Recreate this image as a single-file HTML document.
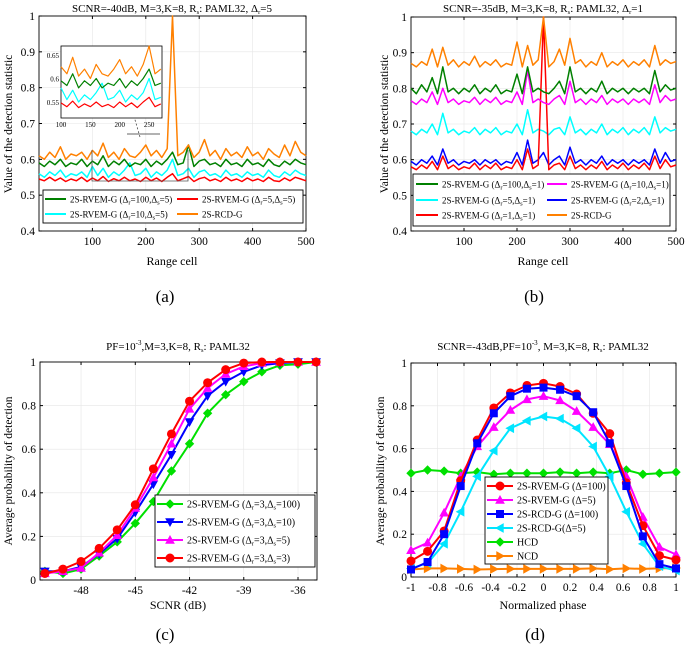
<!DOCTYPE html>
<html><head><meta charset="utf-8"><style>
html,body{margin:0;padding:0;background:#fff}
svg{display:block;font-family:"Liberation Serif",serif}
</style></head><body>
<svg id="fig" width="685" height="653" viewBox="0 0 685 653" xmlns="http://www.w3.org/2000/svg"></svg>
<script>
// ---------- data: panel (a) ----------
const aCells=[0,10,20,30,40,50,60,70,80,90,100,110,120,130,140,150,160,170,180,190,200,210,220,230,240,250,260,270,280,290,300,310,320,330,340,350,360,370,380,390,400,410,420,430,440,450,460,470,480,490,500];
const aOrange=[0.61,0.60,0.62,0.605,0.635,0.60,0.615,0.61,0.62,0.60,0.625,0.61,0.645,0.605,0.62,0.60,0.63,0.61,0.605,0.62,0.64,0.61,0.625,0.605,0.63,1.0,0.61,0.62,0.64,0.605,0.62,0.655,0.61,0.625,0.60,0.63,0.61,0.62,0.605,0.635,0.61,0.62,0.60,0.63,0.615,0.605,0.64,0.61,0.65,0.62,0.61];
const aGreen=[0.59,0.58,0.595,0.585,0.60,0.58,0.59,0.585,0.60,0.58,0.595,0.585,0.61,0.58,0.595,0.585,0.60,0.58,0.59,0.585,0.60,0.58,0.595,0.585,0.60,0.62,0.585,0.59,0.64,0.58,0.595,0.60,0.585,0.59,0.58,0.60,0.585,0.59,0.58,0.60,0.585,0.59,0.58,0.60,0.585,0.58,0.595,0.585,0.60,0.59,0.585];
const aCyan=[0.56,0.55,0.565,0.555,0.57,0.55,0.56,0.555,0.565,0.55,0.58,0.555,0.575,0.55,0.565,0.555,0.57,0.59,0.555,0.56,0.575,0.55,0.565,0.555,0.57,0.60,0.555,0.56,0.575,0.55,0.565,0.57,0.555,0.56,0.55,0.57,0.555,0.56,0.55,0.565,0.555,0.56,0.55,0.57,0.555,0.55,0.565,0.555,0.57,0.56,0.555];
const aRed=[0.545,0.54,0.55,0.54,0.548,0.538,0.545,0.54,0.55,0.538,0.548,0.54,0.552,0.538,0.546,0.54,0.55,0.54,0.545,0.538,0.55,0.54,0.548,0.538,0.55,0.56,0.54,0.546,0.552,0.538,0.546,0.55,0.54,0.545,0.538,0.55,0.54,0.545,0.538,0.548,0.54,0.545,0.538,0.55,0.54,0.538,0.548,0.54,0.55,0.545,0.54];
// ---------- data: panel (b) ----------
const bOrange=[0.87,0.86,0.875,0.865,0.91,0.86,0.915,0.865,0.88,0.86,0.875,0.865,0.89,0.86,0.875,0.865,0.88,0.86,0.87,0.865,0.93,0.86,0.92,0.865,0.88,1.0,0.86,0.875,0.91,0.865,0.94,0.87,0.88,0.86,0.875,0.865,0.90,0.86,0.875,0.865,0.88,0.86,0.875,0.865,0.88,0.86,0.92,0.865,0.88,0.87,0.875];
const bGreen=[0.80,0.785,0.81,0.79,0.83,0.785,0.86,0.79,0.80,0.785,0.80,0.79,0.81,0.785,0.80,0.79,0.81,0.785,0.795,0.79,0.84,0.785,0.86,0.79,0.80,0.79,0.785,0.80,0.82,0.785,0.86,0.79,0.80,0.785,0.80,0.79,0.82,0.785,0.80,0.79,0.80,0.785,0.80,0.79,0.80,0.785,0.85,0.79,0.81,0.795,0.80];
const bMagenta=[0.765,0.755,0.77,0.76,0.79,0.755,0.80,0.76,0.77,0.755,0.765,0.76,0.775,0.755,0.77,0.76,0.775,0.755,0.765,0.76,0.79,0.755,0.85,0.76,0.77,0.76,0.755,0.77,0.78,0.755,0.82,0.76,0.77,0.755,0.77,0.76,0.78,0.755,0.77,0.76,0.77,0.755,0.77,0.76,0.77,0.755,0.81,0.76,0.78,0.765,0.77];
const bCyan=[0.68,0.67,0.685,0.675,0.70,0.67,0.73,0.675,0.685,0.67,0.68,0.675,0.69,0.67,0.685,0.675,0.69,0.67,0.68,0.675,0.70,0.67,0.74,0.675,0.685,0.68,0.67,0.685,0.69,0.67,0.72,0.675,0.685,0.67,0.685,0.675,0.70,0.67,0.685,0.675,0.69,0.67,0.685,0.675,0.69,0.67,0.72,0.675,0.69,0.68,0.685];
const bBlue=[0.595,0.585,0.60,0.59,0.61,0.585,0.63,0.59,0.60,0.585,0.595,0.59,0.60,0.585,0.60,0.59,0.60,0.585,0.595,0.59,0.62,0.585,0.655,0.59,0.60,0.62,0.585,0.60,0.61,0.585,0.635,0.59,0.60,0.585,0.60,0.59,0.61,0.585,0.60,0.59,0.60,0.585,0.60,0.59,0.60,0.585,0.63,0.59,0.62,0.595,0.60];
const bRed=[0.58,0.572,0.585,0.575,0.595,0.572,0.61,0.575,0.585,0.572,0.58,0.575,0.59,0.572,0.585,0.575,0.59,0.572,0.58,0.575,0.60,0.572,0.63,0.575,0.585,1.0,0.572,0.585,0.59,0.572,0.61,0.575,0.585,0.572,0.585,0.575,0.595,0.572,0.585,0.575,0.59,0.572,0.585,0.575,0.59,0.572,0.61,0.575,0.60,0.58,0.585];
// ---------- data: panel (c) ----------
const cSCNR=[-50,-49,-48,-47,-46,-45,-44,-43,-42,-41,-40,-39,-38,-37,-36,-35];
const cS100=[0.04,0.03,0.05,0.11,0.175,0.26,0.36,0.50,0.625,0.765,0.85,0.91,0.955,0.985,0.99,1];
const cS10=[0.04,0.04,0.06,0.12,0.19,0.31,0.44,0.575,0.725,0.845,0.91,0.955,0.985,0.995,1,1];
const cS5=[0.03,0.04,0.055,0.125,0.205,0.33,0.47,0.625,0.785,0.88,0.945,0.98,0.995,1,1,1];
const cS3=[0.03,0.05,0.085,0.145,0.23,0.345,0.51,0.67,0.82,0.905,0.965,0.995,1,1,1,1];
// ---------- data: panel (d) ----------
const dPhase=[-1,-0.875,-0.75,-0.625,-0.5,-0.375,-0.25,-0.125,0,0.125,0.25,0.375,0.5,0.625,0.75,0.875,1];
const dRvem100=[0.075,0.12,0.215,0.45,0.64,0.79,0.86,0.895,0.905,0.89,0.855,0.765,0.67,0.44,0.24,0.10,0.08];
const dRvem5=[0.125,0.16,0.30,0.47,0.61,0.70,0.78,0.83,0.845,0.825,0.775,0.70,0.62,0.47,0.28,0.14,0.105];
const dRcd100=[0.035,0.07,0.20,0.425,0.625,0.765,0.845,0.88,0.885,0.875,0.845,0.77,0.625,0.425,0.19,0.06,0.04];
const dRcd5=[0.04,0.065,0.155,0.305,0.47,0.59,0.695,0.73,0.75,0.74,0.695,0.61,0.47,0.305,0.155,0.05,0.03];
const dHcd=[0.485,0.50,0.495,0.485,0.49,0.48,0.485,0.485,0.485,0.49,0.485,0.49,0.485,0.50,0.48,0.485,0.49];
const dNcd=[0.035,0.04,0.04,0.038,0.035,0.037,0.038,0.038,0.038,0.038,0.038,0.04,0.036,0.04,0.038,0.04,0.042];
const aXTicks=[100,200,300,400,500], aYTicks=[0.4,0.5,0.6,0.7,0.8,0.9,1];
const cXTicks=[-48,-45,-42,-39,-36], cYTicks=[0,0.2,0.4,0.6,0.8,1];
const dXTicks=[-1,-0.8,-0.6,-0.4,-0.2,0,0.2,0.4,0.6,0.8,1];

const NS='http://www.w3.org/2000/svg', svg=document.getElementById('fig');
function mk(tag,attrs,parent){const e=document.createElementNS(NS,tag);for(const k in attrs)e.setAttribute(k,attrs[k]);(parent||svg).appendChild(e);return e;}
function txt(s,x,y,size,anchor,parent,name){const t=mk('text',{x:x,y:y,'font-size':size,'text-anchor':anchor||'middle',fill:'#000'},parent);t.innerHTML=s;

return t;}
function axes(ax,name){
  const g=mk('g',{});
  
  
  ax.g=g;ax.sx=v=>ax.x0+(v-ax.d0)/(ax.d1-ax.d0)*(ax.x1-ax.x0);ax.sy=v=>ax.y1-(v-ax.r0)/(ax.r1-ax.r0)*(ax.y1-ax.y0);
  ax.xt.forEach(v=>{const x=ax.sx(v);mk('line',{x1:x,x2:x,y1:ax.y0,y2:ax.y1,stroke:'#e6e6e6','stroke-width':0.6},g);mk('line',{x1:x,x2:x,y1:ax.y1,y2:ax.y1-3,stroke:'#000'},g);mk('line',{x1:x,x2:x,y1:ax.y0,y2:ax.y0+3,stroke:'#000'},g);txt(String(v),x,ax.y1+14,11.5,'middle',g,'x-tick-label');});
  ax.yt.forEach(v=>{const y=ax.sy(v);mk('line',{x1:ax.x0,x2:ax.x1,y1:y,y2:y,stroke:'#e6e6e6','stroke-width':0.6},g);mk('line',{x1:ax.x0,x2:ax.x0+3,y1:y,y2:y,stroke:'#000'},g);mk('line',{x1:ax.x1,x2:ax.x1-3,y1:y,y2:y,stroke:'#000'},g);txt(String(v),ax.x0-4,y+4,11.5,'end',g,'y-tick-label');});
  mk('rect',{x:ax.x0,y:ax.y0,width:ax.x1-ax.x0,height:ax.y1-ax.y0,fill:'none',stroke:'#000','stroke-width':0.9},g);
  return ax;}
function series(ax,xs,ys,color,w,name,marker,parent){
  const p=xs.map((x,i)=>(i?'L':'M')+ax.sx(x).toFixed(1)+','+ax.sy(ys[i]).toFixed(1)).join('');
  const s=mk('path',{d:p,fill:'none',stroke:color,'stroke-width':w,'stroke-linejoin':'round'},parent||ax.g);
  
  
  if(marker)xs.forEach((x,i)=>drawMarker(marker,ax.sx(x),ax.sy(ys[i]),color,parent||ax.g));}
function drawMarker(m,x,y,c,g){const r=4;let e;
  if(m==='o')e=mk('circle',{cx:x,cy:y,r:r},g);
  else if(m==='s')e=mk('rect',{x:x-r+0.5,y:y-r+0.5,width:2*r-1,height:2*r-1},g);
  else{const pts={d:[[0,-r],[r,0],[0,r],[-r,0]],v:[[-r,-r*0.8],[r,-r*0.8],[0,r]],'^':[[-r,r*0.8],[r,r*0.8],[0,-r]],'<':[[r*0.8,-r],[r*0.8,r],[-r,0]],'>':[[-r*0.8,-r],[-r*0.8,r],[r,0]]}[m];
    e=mk('polygon',{points:pts.map(p=>(x+p[0])+','+(y+p[1])).join(' ')},g);}
  e.setAttribute('fill',c);e.setAttribute('stroke',c);
  
  }
function legend(x,y,w,h,entries,name){const g=mk('g',{});
  
  
  mk('rect',{x:x,y:y,width:w,height:h,fill:'#fff',stroke:'#000','stroke-width':0.9},g);
  entries.forEach(e=>{mk('line',{x1:e[0],x2:e[0]+e[5],y1:e[1],y2:e[1],stroke:e[2],'stroke-width':e[6]||2},g);if(e[4])drawMarker(e[4],e[0]+e[5]/2,e[1],e[2],g);txt(e[3],e[0]+e[5]+4,e[1]+3.5,e[7]||10,'start',g,'legend-entry');});}
const sub=(s)=>'<tspan font-size="6.5" baseline-shift="-2">'+s+'</tspan>';
const D=(a,b)=>'2S-RVEM-G (Δ'+sub('r')+'='+a+',Δ'+sub('s')+'='+b+')';

// ---------- (a) ----------
const A=axes({x0:39,x1:306,y0:16,y1:231,d0:0,d1:500,r0:0.4,r1:1,xt:aXTicks,yt:aYTicks},'plot-a');
series(A,aCells,aRed,'#ff0000',1.5,'series-a-red');
series(A,aCells,aCyan,'#00ffff',1.5,'series-a-cyan');
series(A,aCells,aGreen,'#008000',1.5,'series-a-green');
series(A,aCells,aOrange,'#ff8000',1.5,'series-a-orange');
mk('path',{d:'M92,150L92,181L188,181L188,150',fill:'none',stroke:'#555','stroke-width':0.8},A.g);
mk('line',{x1:127,x2:160,y1:134,y2:134,stroke:'#333','stroke-width':0.8},A.g);
mk('line',{x1:140,x2:133,y1:137,y2:113,stroke:'#333','stroke-width':0.7,'stroke-dasharray':'2,2'},A.g);
mk('polygon',{points:'131,110 135,116 131,116',fill:'#000'},A.g);
const I={x0:61,x1:162,y0:46,y1:118,d0:100,d1:272,r0:0.516,r1:0.669};
I.sx=v=>I.x0+(v-I.d0)/(I.d1-I.d0)*(I.x1-I.x0);I.sy=v=>I.y1-(v-I.r0)/(I.r1-I.r0)*(I.y1-I.y0);
const ig=mk('g',{});I.g=ig;
mk('rect',{x:I.x0,y:I.y0,width:I.x1-I.x0,height:I.y1-I.y0,fill:'#fff',stroke:'#000','stroke-width':0.8},ig);
const isl=(a)=>a.slice(10,28), icl=aCells.slice(10,28);
series(I,icl,isl(aRed),'#ff0000',1.2,'inset-red');series(I,icl,isl(aCyan),'#00ffff',1.2,'inset-cyan');
series(I,icl,isl(aGreen),'#008000',1.2,'inset-green');
series(I,icl,isl(aOrange).map(v=>Math.min(v,0.669)),'#ff8000',1.2,'inset-orange');
[0.55,0.6,0.65].forEach(v=>txt(String(v),I.x0-2,I.sy(v)+3,7,'end',ig,'inset-y-tick'));
[100,150,200,250].forEach(v=>txt(String(v),I.sx(v),I.y1+9,7,'middle',ig,'inset-x-tick'));
legend(43,190,260,33,[[45,199,'#008000',D(100,5),null,21,2,9],[177,199,'#ff0000',D(5,5),null,21,2,9],[45,214,'#00ffff',D(10,5),null,21,2,9],[177,214,'#ff8000','2S-RCD-G',null,21,2,9]],'legend-a');
txt('SCNR=-40dB, M=3,K=8, R'+sub('s')+': PAML32, Δ'+sub('r')+'=5',172,12,11,'middle',svg,'title-a');
txt('Range cell',172,265,12,'middle',svg,'x-axis-title-a');
txt('Value of the detection statistic',0,0,11.5,'middle',svg,'y-axis-title-a').setAttribute('transform','translate(12,124) rotate(-90)');
txt('(a)',165,302,17,'middle',svg,'caption-a');

// ---------- (b) ----------
const B=axes({x0:411,x1:676,y0:17,y1:231,d0:0,d1:500,r0:0.4,r1:1,xt:aXTicks,yt:aYTicks},'plot-b');
series(B,aCells,bCyan,'#00ffff',1.5,'series-b-cyan');
series(B,aCells,bBlue,'#0000ff',1.5,'series-b-blue');
series(B,aCells,bRed,'#ff0000',1.5,'series-b-red');
series(B,aCells,bMagenta,'#ff00ff',1.5,'series-b-magenta');
series(B,aCells,bGreen,'#008000',1.5,'series-b-green');
series(B,aCells,bOrange,'#ff8000',1.5,'series-b-orange');
legend(413,174,257,52,[[416,184,'#008000',D(100,1),null,22,2,9],[547,184,'#ff00ff',D(10,1),null,20,2,9],[416,200,'#00ffff',D(5,1),null,22,2,9],[547,200,'#0000ff',D(2,1),null,20,2,9],[416,215,'#ff0000',D(1,1),null,22,2,9],[547,215,'#ff8000','2S-RCD-G',null,20,2,9]],'legend-b');
txt('SCNR=-35dB, M=3,K=8, R'+sub('s')+': PAML32, Δ'+sub('r')+'=1',543,12,11,'middle',svg,'title-b');
txt('Range cell',543,265,12,'middle',svg,'x-axis-title-b');
txt('Value of the detection statistic',0,0,11.5,'middle',svg,'y-axis-title-b').setAttribute('transform','translate(388,124) rotate(-90)');
txt('(b)',534,302,17,'middle',svg,'caption-b');

// ---------- (c) ----------
const C=axes({x0:40,x1:317,y0:362,y1:580,d0:-50.27,d1:-34.95,r0:0,r1:1,xt:cXTicks,yt:cYTicks},'plot-c');
series(C,cSCNR,cS100,'#00e000',2,'series-c-ds100','d');
series(C,cSCNR,cS10,'#0000ff',2,'series-c-ds10','v');
series(C,cSCNR,cS5,'#ff00ff',2,'series-c-ds5','^');
series(C,cSCNR,cS3,'#ff0000',2,'series-c-ds3','o');
legend(155,495,160,72,[[157,504,'#00e000',D(3,100),'d',26],[157,522,'#0000ff',D(3,10),'v',26],[157,540,'#ff00ff',D(3,5),'^',26],[157,558,'#ff0000',D(3,3),'o',26]],'legend-c');
txt('PF=10<tspan font-size="7" baseline-shift="5">-3</tspan>,M=3,K=8, R'+sub('s')+': PAML32',178,350,11,'middle',svg,'title-c');
txt('SCNR (dB)',178,609,12,'middle',svg,'x-axis-title-c');
txt('Average probability of detection',0,0,11.5,'middle',svg,'y-axis-title-c').setAttribute('transform','translate(12,471) rotate(-90)');
txt('(c)',165,640,17,'middle',svg,'caption-c');

// ---------- (d) ----------
const Dp=axes({x0:411,x1:676,y0:363,y1:577,d0:-1,d1:1,r0:0,r1:1,xt:dXTicks,yt:cYTicks},'plot-d');
series(Dp,dPhase,dHcd,'#00e000',2,'series-d-hcd','d');
series(Dp,dPhase,dNcd,'#ff8000',2,'series-d-ncd','>');
series(Dp,dPhase,dRcd5,'#00e5ff',2,'series-d-rcd5','<');
series(Dp,dPhase,dRvem5,'#ff00ff',2,'series-d-rvem5','^');
series(Dp,dPhase,dRvem100,'#ff0000',2,'series-d-rvem100','o');
series(Dp,dPhase,dRcd100,'#0000ff',2,'series-d-rcd100','s');
legend(485,477,123,87,[[487,486,'#ff0000','2S-RVEM-G (Δ=100)','o',26],[487,500,'#ff00ff','2S-RVEM-G (Δ=5)','^',26],[487,514,'#0000ff','2S-RCD-G (Δ=100)','s',26],[487,528,'#00e5ff','2S-RCD-G(Δ=5)','<',26],[487,542,'#00e000','HCD','d',26],[487,556,'#ff8000','NCD','>',26]],'legend-d');
txt('SCNR=-43dB,PF=10<tspan font-size="7" baseline-shift="5">-3</tspan>, M=3,K=8, R'+sub('s')+': PAML32',543,350,11,'middle',svg,'title-d');
txt('Normalized phase',543,609,12,'middle',svg,'x-axis-title-d');
txt('Average probability of detection',0,0,11.5,'middle',svg,'y-axis-title-d').setAttribute('transform','translate(384,471) rotate(-90)');
txt('(d)',535,640,17,'middle',svg,'caption-d');
</script>
</body></html>
